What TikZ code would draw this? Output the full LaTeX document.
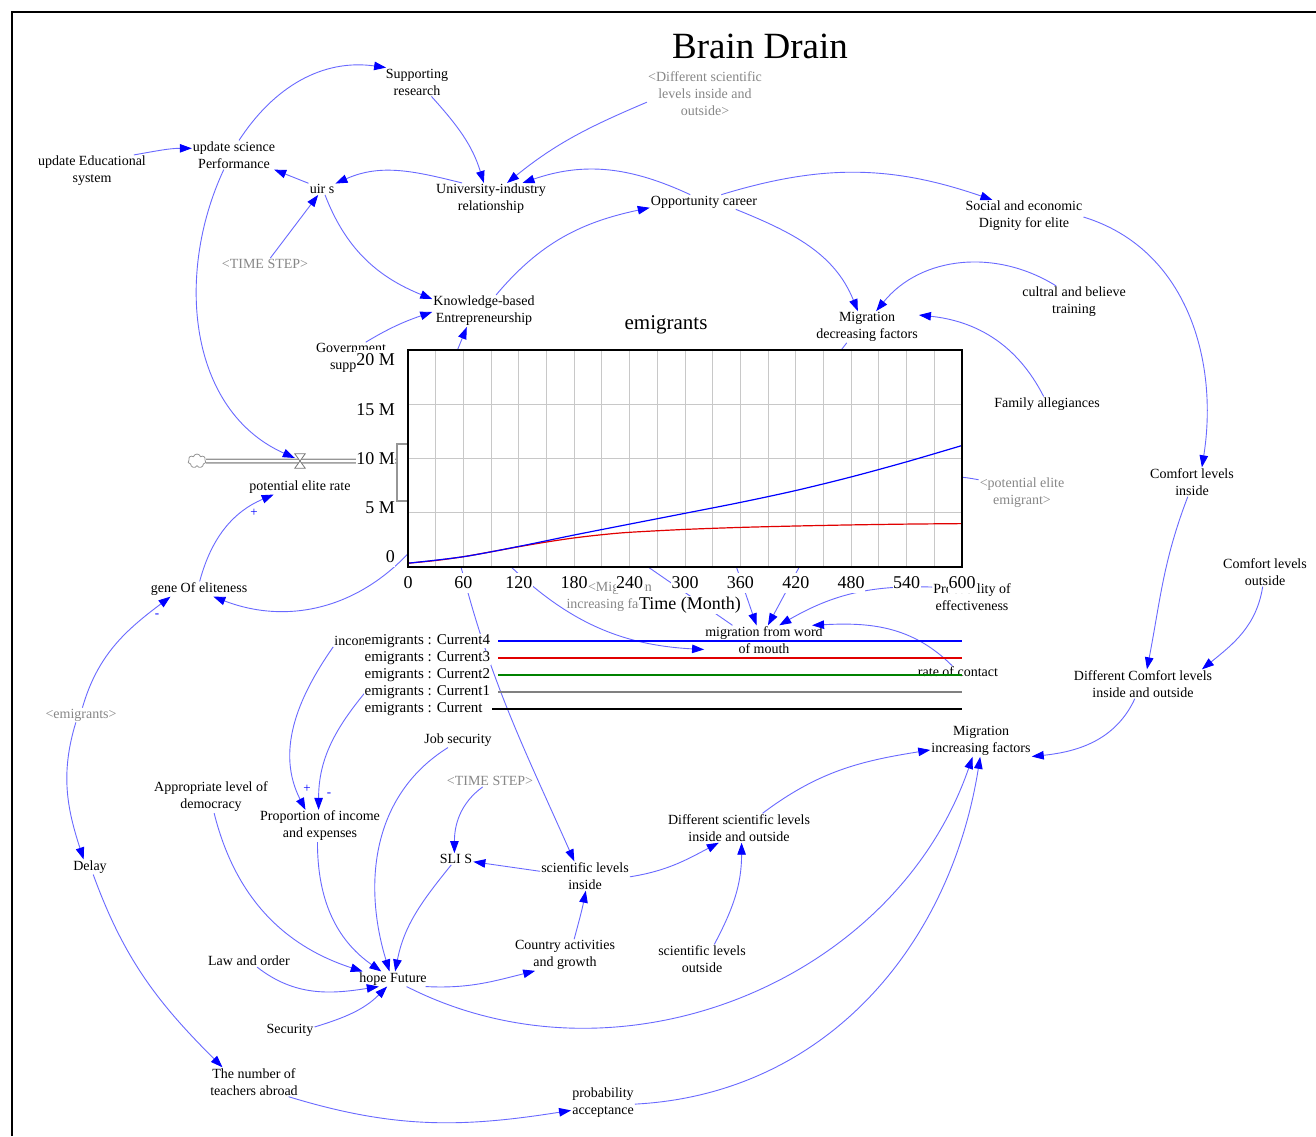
\documentclass[tikz,border=0pt]{standalone}
\usepackage{fontspec}
\setmainfont{Liberation Serif}
\usetikzlibrary{arrows.meta,shapes.symbols}
\definecolor{lnk}{RGB}{105,105,255}
\definecolor{hd}{RGB}{0,0,255}
\definecolor{gtxt}{RGB}{135,135,135}
\definecolor{gridc}{RGB}{200,200,200}
\definecolor{pipec}{RGB}{150,150,150}
\definecolor{redc}{RGB}{225,0,0}
\definecolor{grnc}{RGB}{0,130,0}
\begin{document}
\begin{tikzpicture}[x=1pt,y=1pt,
  v/.style={align=center,font=\fontsize{14}{17}\selectfont,inner sep=1pt},
  gv/.style={v,text=gtxt},
  lk/.style={draw=lnk,line width=0.9pt,-{Triangle[length=12pt,width=8.5pt,color=hd,fill=hd]}},
  ln/.style={draw=lnk,line width=0.9pt},
  sgn/.style={text=hd,font=\fontsize{13}{13}\selectfont,inner sep=0pt},
  tk/.style={fill=white,inner xsep=0.5pt,inner ysep=3.5pt,font=\fontsize{18}{18}\selectfont},
  lg/.style={fill=white,inner sep=0.5pt,anchor=west,font=\fontsize{15}{15}\selectfont},
  gridl/.style={draw=gridc,line width=0.9pt},
]
\useasboundingbox (0,0) rectangle (1316,-1136);
\fill[white] (0,0) rectangle (1316,-1136);
\draw[line width=2pt] (12,-1136) -- (12,-12) -- (1316,-12);

% title
\node[font=\fontsize{37}{37}\selectfont,inner sep=0pt] (ttl) at (760,-46) {Brain Drain};

% variables
\node[v] (sup) at (417,-82) {Supporting\\research};
\node[gv] (dsl) at (705,-94) {<Different scientific\\levels inside and\\outside>};
\node[v] (ued) at (92,-171) {update Educational\\system};
\node[v] (usp) at (234,-155) {update science\\Performance};
\node[v] (uirs) at (322,-189) {uir s};
\node[v] (uni) at (491,-199) {University-industry\\relationship};
\node[v] (opp) at (704,-202) {Opportunity career};
\node[v] (soc) at (1024,-216) {Social and economic\\Dignity for elite};
\node[gv] (ts1) at (265,-264) {<TIME STEP>};
\node[v] (kbe) at (484,-311) {Knowledge-based\\Entrepreneurship};
\node[v] (mdf) at (867,-327) {Migration\\decreasing factors};
\node[v] (cul) at (1074,-302) {cultral and believe\\training};
\node[v] (fam) at (1047,-404) {Family allegiances};
\node[v] (gov) at (351,-358) {Government\\support};
\node[v] (cli) at (1192,-482) {Comfort levels\\inside};
\node[gv] (pee) at (1022,-493) {<potential elite\\emigrant>};
\node[v] (per) at (300,-487) {potential elite rate};
\node[v] (gen) at (199,-589) {gene Of eliteness};
\node[v] (clo) at (1265,-572) {Comfort levels\\outside};
\node[gv] (mif2) at (620,-597) {<Migration\\increasing factors>};
\node[v] (pof) at (972,-597) {Probability of\\effectiveness};
\node[v] (mwm) at (764,-640) {migration from word\\of mouth};
\node[v] (roc) at (958,-672) {rate of contact};
\node[v] (dcl) at (1143,-684) {Different Comfort levels\\inside and outside};
\node[gv] (emg) at (81,-715) {<emigrants>};
\node[v] (inc) at (355,-641) {income};
\node[v] (job) at (458,-740) {Job security};
\node[v] (apd) at (211,-797) {Appropriate level of\\democracy};
\node[gv] (ts2) at (490,-781) {<TIME STEP>};
\node[v] (pie) at (320,-826) {Proportion of income\\and expenses};
\node[v] (mif) at (981,-741) {Migration\\increasing factors};
\node[v] (dsi) at (739,-828) {Different scientific levels\\inside and outside};
\node[v] (dly) at (90,-867) {Delay};
\node[v] (sli) at (456,-859) {SLI S};
\node[v] (sin) at (585,-876) {scientific levels\\inside};
\node[v] (cag) at (565,-955) {Country activities\\and growth};
\node[v] (sou) at (702,-959) {scientific levels\\outside};
\node[v] (lao) at (249,-961) {Law and order};
\node[v] (hop) at (393,-979) {hope Future};
\node[v] (sec) at (290,-1030) {Security};
\node[v] (tna) at (254,-1082) {The number of\\teachers abroad};
\node[v] (pac) at (603,-1103) {probability\\acceptance};

% stock, flow pipe, cloud, valve
\node[draw=pipec,line width=1.5pt,minimum width=134pt,minimum height=57pt,inner sep=0pt,anchor=west] (stk) at (396,-472.5) {};
\node[cloud,cloud puffs=7,draw=pipec,fill=white,minimum width=18pt,minimum height=14pt,inner sep=0pt,line width=0.8pt] (cld) at (197,-461) {};
\draw[pipec,line width=5pt] (cld.east) -- (cld -| stk.west);
\draw[white,line width=2pt] (cld.east) -- (cld -| stk.west);
\node[minimum width=10pt,minimum height=14pt,inner sep=0pt] (vlv) at (300,-461) {};
\draw[pipec!80!black,fill=white,line width=0.8pt] (vlv.north west) -- (vlv.north east) -- (vlv.south west) -- (vlv.south east) -- cycle;

% free ends of links hidden under the graph
\coordinate (h1) at (455,-356);
\coordinate (h2) at (414,-547);
\coordinate (h3) at (458,-555);
\coordinate (h4) at (502,-558);
\coordinate (h5) at (638,-560);
\coordinate (h6) at (803,-560);
\coordinate (h7) at (734,-560);
\coordinate (h8) at (955,-477);
\coordinate (h9) at (835,-358);
\coordinate (h10) at (368,-689);

% links
\draw[lk] (ued.21) to[out=10,in=180] (usp.171);
\draw[lk] (usp.71) to[out=57,in=172] (sup.155);
\draw[lk] (sup.-45) to[out=-48,in=107] (uni.114);
\draw[lk] (dsl.188) to[out=203,in=39] (uni.45);
\draw[lk] (uirs.157) -- (usp.-20);
\draw[lk] (uni.151) to[out=166,in=24] (uirs.22);
\draw[lk] (ts1.48) -- (uirs.237);
\draw[lk] (uirs.-63) to[out=-69,in=158] (kbe.167);
\draw[lk] (kbe.53) to[out=50,in=192] (opp.186);
\draw[lk] (opp.152) to[out=155,in=19] (uni.27);
\draw[lk] (opp.23) to[out=17,in=161] (soc.153);
\draw[lk] (opp.-13) to[out=-22,in=112] (mdf.120);
\draw[lk] (cul.138) to[out=148,in=51] (mdf.60);
\draw[lk] (fam.114) to[out=117,in=354] (mdf.13);
\draw[lk] (soc.-1) to[out=-17,in=81] (cli.56);
\draw[lk] (gov.47) to[out=31,in=199] (kbe.181);
\draw[lk] (h1) -- (kbe.223);
\draw[ln] (mdf.218) -- (h9);
\draw[lk] (usp.235) to[out=245,in=156] (vlv.150);
\draw[lk] (gen.85) to[out=75,in=203] (per.196);
\draw[lk] (h2) to[out=229,in=339] (gen.-28);
\draw[lk] (emg.79) to[out=74,in=217] (gen.195);
\draw[lk] (emg.235) to[out=253,in=108] (dly.130);
\draw[lk] (dly.-67) to[out=-70,in=135] (tna.155);
\draw[lk] (tna.-23) to[out=-17,in=189] (pac.193);
\draw[lk] (pac.-2) to[out=3,in=261] (mif.267);
\draw[lk] (hop.-29) to[out=-27,in=251] (mif.242);
\draw[lk] (dsi.32) to[out=37,in=189] (mif.190);
\draw[lk] (dcl.241) to[out=245,in=6] (mif.-17);
\draw[lk] (cli.254) to[out=249,in=79] (dcl.75);
\draw[lk] (clo.261) to[out=261,in=39] (dcl.14);
\draw[lk] (sin.-1) to[out=9,in=208] (dsi.216);
\draw[lk] (sou.50) to[out=62,in=270] (dsi.280);
\draw[lk] (sin.174) -- (sli.-9);
\draw[lk] (ts2.219) to[out=216,in=90] (sli.105);
\draw[lk] (cag.60) to[out=75,in=259] (sin.273);
\draw[lk] (hop.-13) to[out=-3,in=194] (cag.208);
\draw[lk] (sli.231) to[out=231,in=79] (hop.74);
\draw[lk] (job.217) to[out=212,in=107] (hop.115);
\draw[lk] (pie.261) to[out=270,in=145] (hop.147);
\draw[lk] (apd.-79) to[out=-76,in=162] (hop.166);
\draw[lk] (lao.-37) to[out=-38,in=189] (hop.208);
\draw[lk] (sec.7) to[out=17,in=225] (hop.232);
\draw[lk] (h3) to[out=-76,in=114] (sin.126);
\draw[lk] (h4) to[out=-45,in=177] (mwm.189);
\draw[ln] (h5) -- (mwm.155);
\draw[lk] (pof.166) to[out=178,in=30] (mwm.44);
\draw[lk] (h6) -- (mwm.75);
\draw[lk] (h7) -- (mwm.117);
\draw[lk] (roc.133) to[out=135,in=3] (mwm.17);
\draw[ln] (pee.163) to[out=170,in=0] (h8);
\draw[lk] (inc.south west) to[out=235,in=117] (pie.132);
\draw[lk] (h10) to[out=230,in=90] (pie.95);

% polarity signs
\node[sgn] (s1) at (254,-513) {+};
\node[sgn] (s2) at (157,-616) {-};
\node[sgn] (s3) at (307,-789) {+};
\node[sgn] (s4) at (329,-795) {-};

% ===== graph window =====
\fill[white] (408,-350) rectangle (962,-567);
\foreach \i in {1,...,19} \draw[gridl] ({408+\i*27.7},-350) -- ({408+\i*27.7},-567);
\foreach \j in {1,2,3} \draw[gridl] (408,{-567+\j*54.25}) -- (962,{-567+\j*54.25});
\draw[redc,line width=1.2pt] plot[smooth] coordinates {(408,-563.2) (435.7,-560.5) (463.4,-556.7) (491.1,-551.8) (518.8,-546.7) (546.5,-542) (574.2,-537.9) (601.9,-534.7) (629.6,-532.3) (685,-529.4) (740.4,-527.4) (795.8,-526) (851.2,-524.9) (906.6,-524.1) (962,-523.6)};
\draw[hd,line width=1.2pt] plot[smooth] coordinates {(408,-563.2) (463.4,-556.7) (518.8,-546.4) (574.2,-535) (629.6,-524.1) (685,-513.3) (740.4,-502.4) (795.8,-490.5) (851.2,-476.9) (906.6,-461.8) (962,-445.5)};
\draw[line width=2pt] (408,-350) rectangle (962,-567);

\node[font=\fontsize{21}{21}\selectfont,inner sep=0pt] (emt) at (666,-325) {emigrants};
\node[tk,anchor=east] (y20) at (395.5,-360) {20 M};
\node[tk,anchor=east] (y15) at (395.5,-410) {15 M};
\node[tk,anchor=east] (y10) at (395.5,-459) {10 M};
\node[tk,anchor=east] (y5) at (395.5,-508) {5 M};
\node[tk,anchor=east] (y0) at (395.5,-557) {0};
\foreach \m/\x in {0/408,60/463.4,120/518.8,180/574.2,240/629.6,300/685,360/740.4,420/795.8,480/851.2,540/906.6,600/962}
  \node[tk] (xl\m) at (\x,-583) {\m};
\node[tk,inner ysep=1pt] (tml) at (690,-605) {Time (Month)};

% legend
\node[lg] (l4) at (364,-641) {emigrants : Current4};
\node[lg] (l3) at (364,-658) {emigrants : Current3};
\node[lg] (l2) at (364,-675) {emigrants : Current2};
\node[lg] (l1) at (364,-692) {emigrants : Current1};
\node[lg] (l0) at (364,-709) {emigrants : Current};
\draw[hd,line width=1.1pt] (498,-641) -- (962,-641);
\draw[redc,line width=1.1pt] (498,-658) -- (962,-658);
\draw[grnc,line width=1.1pt] (498,-675) -- (962,-675);
\draw[gray,line width=1.1pt] (498,-692) -- (962,-692);
\draw[black,line width=1.1pt] (492,-709) -- (962,-709);
\end{tikzpicture}
\end{document}
